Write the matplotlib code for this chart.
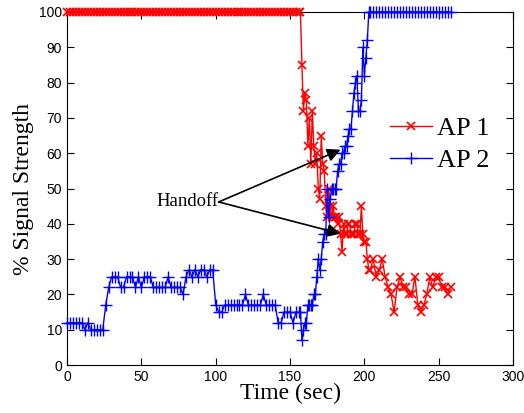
import numpy as np
import matplotlib
matplotlib.use("Agg")
import matplotlib.pyplot as plt

# sample times (sec): coarse on flat parts, 1 s through the handoff
time = list(range(0, 157, 2)) + list(range(157, 205)) + list(range(206, 259, 2))

# AP 1 signal strength (%)
ap1 = [100] * 79 + [
    100, 85, 72, 77, 75, 62, 70, 57, 72, 62,
    57, 60, 50, 47, 65, 57, 55, 45, 42, 50,
    45, 42, 45, 42, 42, 40, 42, 37, 32, 40,
    37, 37, 40, 40, 37, 37, 37, 40, 40, 37,
    37, 45, 37, 35, 35, 30, 27, 27,
] + [30, 25, 27, 30, 25, 22, 20, 15, 22, 25,
     22, 22, 20, 20, 25, 17, 15, 17, 20, 25,
     22, 25, 25, 22, 22, 20, 22]

# AP 2 signal strength (%)
ap2 = [
    12, 12, 12, 12, 12, 12, 10, 12, 10, 10,
    10, 10, 10, 17, 22, 25, 25, 25, 22, 22,
    25, 25, 25, 22, 25, 22, 25, 25, 25, 22,
    22, 22, 22, 22, 25, 22, 22, 22, 22, 20,
    25, 27, 25, 27, 25, 27, 27, 25, 27, 27,
    17, 15, 15, 17, 17, 17, 17, 17, 17, 17,
    20, 17, 17, 17, 17, 17, 20, 17, 17, 17,
    17, 12, 12, 15, 15, 15, 12, 15, 15,
] + [
    15, 7, 10, 12, 12, 17, 17, 17, 17, 20,
    20, 25, 30, 27, 30, 35, 37, 37, 50, 42,
    47, 50, 50, 50, 50, 55, 57, 57, 60, 60,
    62, 62, 65, 67, 67, 72, 77, 80, 82, 72,
    72, 75, 90, 82, 87, 92, 100, 100,
] + [100] * 27

serif = ["Liberation Serif", "DejaVu Serif"]
sans = ["Liberation Sans", "DejaVu Sans"]

fig = plt.figure(figsize=(5.24, 4.13), dpi=100)
ax = fig.add_axes([0.128, 0.116, 0.851, 0.855])

ax.plot(time, ap1, color="red", marker="x", markersize=5.5, linewidth=1,
        markeredgewidth=1.2, label="AP 1", clip_on=False, zorder=3)
ax.plot(time, ap2, color="blue", marker="+", markersize=8, linewidth=1,
        markeredgewidth=1, label="AP 2", clip_on=False, zorder=3)

ax.set_xlim(0, 300)
ax.set_ylim(0, 100)
ax.set_xticks(np.arange(0, 301, 50))
ax.set_yticks(np.arange(0, 101, 10))
ax.tick_params(direction="in", top=True, right=True, length=5, labelsize=10)
for lab in ax.get_xticklabels() + ax.get_yticklabels():
    lab.set_family(sans)

ax.set_xlabel("Time (sec)", family=serif, fontsize=17, labelpad=-1)
ax.set_ylabel("% Signal Strength", family=serif, fontsize=17, labelpad=4)

# handoff arrows
for target in [(184, 61), (184, 37.2)]:
    ax.annotate("", xy=target, xytext=(102, 46.2),
                arrowprops=dict(arrowstyle="-|>", color="black", lw=1.2,
                                mutation_scale=20, shrinkA=0, shrinkB=0))
ax.text(102, 46.2, "Handoff", family=serif, fontsize=13.5,
        ha="right", va="center")

leg = ax.legend(loc="center left", bbox_to_anchor=(0.67, 0.625), frameon=False,
                prop={"family": serif, "size": 19}, handlelength=1.6,
                handletextpad=0.2, labelspacing=0.3)

fig.savefig("out.png", dpi=100)
